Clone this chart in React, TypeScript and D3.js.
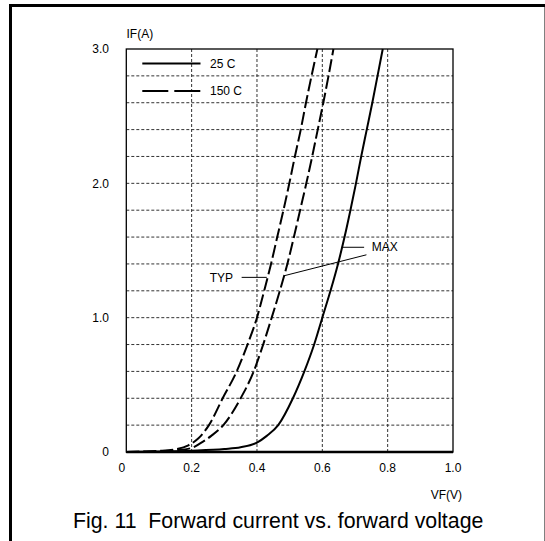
import React from "react";
import * as d3 from "d3";

// ---- data ----
const xTickValues = [0, 0.2, 0.4, 0.6, 0.8, 1.0];
const xTickLabels = ["0", "0.2", "0.4", "0.6", "0.8", "1.0"];
const yTickValues = [0, 1, 2, 3];
const yTickLabels = ["0", "1.0", "2.0", "3.0"];
const xGrid = [0.2, 0.4, 0.6, 0.8];
const yGrid = [0.2, 0.4, 0.6, 0.8, 1.0, 1.2, 1.4, 1.6, 1.8, 2.0, 2.2, 2.4, 2.6, 2.8];

// 150 C typical (left dashed)
const vf150Typ = [0, 0.05, 0.1, 0.15, 0.19, 0.22, 0.253, 0.295, 0.338, 0.371, 0.4, 0.422, 0.443, 0.462, 0.481, 0.499, 0.516, 0.534, 0.55, 0.567, 0.585];
const if150Typ = [0, 0.003, 0.008, 0.02, 0.05, 0.1, 0.2, 0.4, 0.6, 0.8, 1.0, 1.2, 1.4, 1.6, 1.8, 2.0, 2.2, 2.4, 2.6, 2.8, 3.0];
// 150 C max (right dashed)
const vf150Max = [0, 0.05, 0.1, 0.15, 0.2, 0.226, 0.26, 0.297, 0.35, 0.39, 0.419, 0.445, 0.47, 0.493, 0.513, 0.532, 0.551, 0.569, 0.586, 0.603, 0.619, 0.634];
const if150Max = [0, 0.002, 0.005, 0.012, 0.03, 0.064, 0.12, 0.2, 0.4, 0.6, 0.8, 1.0, 1.2, 1.4, 1.6, 1.8, 2.0, 2.2, 2.4, 2.6, 2.8, 3.0];
// 25 C max (solid)
const vf25Max = [0, 0.1, 0.2, 0.3, 0.35, 0.4, 0.43, 0.465, 0.51, 0.545, 0.575, 0.6, 0.625, 0.648, 0.668, 0.686, 0.703, 0.719, 0.736, 0.753, 0.769, 0.785];
const if25Max = [0, 0.004, 0.01, 0.022, 0.035, 0.07, 0.12, 0.2, 0.4, 0.6, 0.8, 1.0, 1.2, 1.4, 1.6, 1.8, 2.0, 2.2, 2.4, 2.6, 2.8, 3.0];

const legendLabels = ["25 C", "150 C"];
const caption = "Fig. 11  Forward current vs. forward voltage";

const FONT = "'Liberation Sans', Arial, Helvetica, sans-serif";

export default function App() {
  const x = d3.scaleLinear().domain([0, 1]).range([126.3, 453]);
  const y = d3.scaleLinear().domain([0, 3]).range([452, 49]);

  const line = d3
    .line<[number, number]>()
    .x((d) => x(d[0]))
    .y((d) => y(d[1]))
    .curve(d3.curveMonotoneX);

  const toPts = (v: number[], i: number[]) => v.map((vv, k) => [vv, i[k]] as [number, number]);

  const x0 = x(0), x1 = x(1), y0 = y(0), y1 = y(3);

  // annotation anchors (data units)
  const typY = 1.3;
  const maxY = 1.524;

  return (
    <svg
      width={545}
      height={541}
      style={{ position: "absolute", left: 0, top: 0, background: "#fff" }}
      fontFamily={FONT}
    >
      {/* outer frame */}
      <rect x={10.5} y={5.5} width={535.5} height={545} fill="none" stroke="#000" strokeWidth={3} />

      {/* grid */}
      {yGrid.map((g) => (
        <line key={"hy" + g} x1={x0} x2={x1} y1={y(g)} y2={y(g)} stroke="#333" strokeWidth={1} strokeDasharray="3,2" />
      ))}
      {xGrid.map((g) => (
        <line key={"vx" + g} x1={x(g)} x2={x(g)} y1={y1} y2={y0} stroke="#333" strokeWidth={1} strokeDasharray="3,2" />
      ))}

      {/* plot frame */}
      <rect x={x0} y={y1} width={x1 - x0} height={y0 - y1} fill="none" stroke="#000" strokeWidth={1.3} />
      <line x1={x0} x2={x1} y1={y0} y2={y0} stroke="#000" strokeWidth={2.5} />

      {/* curves */}
      <path d={line(toPts(vf150Typ, if150Typ)) || ""} fill="none" stroke="#000" strokeWidth={2} strokeDasharray="13,4" />
      <path d={line(toPts(vf150Max, if150Max)) || ""} fill="none" stroke="#000" strokeWidth={2} strokeDasharray="13,4" />
      <path d={line(toPts(vf25Max, if25Max)) || ""} fill="none" stroke="#000" strokeWidth={2} />

      {/* legend */}
      <line x1={142.3} x2={200.5} y1={63.5} y2={63.5} stroke="#000" strokeWidth={2} />
      <line x1={142.3} x2={200.5} y1={91} y2={91} stroke="#000" strokeWidth={2} strokeDasharray="26,6" />
      <text x={210} y={63.5} dy="0.35em" fontSize={12}>{legendLabels[0]}</text>
      <text x={210} y={91} dy="0.35em" fontSize={12}>{legendLabels[1]}</text>

      {/* annotations */}
      <text x={x(0.327)} y={y(typY)} dy="0.35em" fontSize={12} textAnchor="end">TYP</text>
      <line x1={x(0.353)} x2={x(0.43)} y1={y(typY)} y2={y(typY)} stroke="#000" strokeWidth={1} />
      <text x={x(0.751)} y={y(maxY)} dy="0.35em" fontSize={12}>MAX</text>
      <line x1={x(0.659)} x2={x(0.728)} y1={y(maxY)} y2={y(maxY)} stroke="#000" strokeWidth={1} />
      <line x1={x(0.735)} x2={x(0.483)} y1={y(1.468)} y2={y(1.312)} stroke="#000" strokeWidth={1} />

      {/* axis labels */}
      {xTickValues.map((v, k) => (
        <text key={"xt" + v} x={x(v) + (k === 0 ? -4.5 : 0)} y={472} fontSize={12} textAnchor="middle">
          {xTickLabels[k]}
        </text>
      ))}
      {yTickValues.map((v, k) => (
        <text key={"yt" + v} x={109} y={y(v)} dy="0.35em" fontSize={12} textAnchor="end">
          {yTickLabels[k]}
        </text>
      ))}
      <text x={126.5} y={33.5} dy="0.35em" fontSize={12}>IF(A)</text>
      <text x={462} y={495} dy="0.35em" fontSize={12} textAnchor="end">VF(V)</text>

      <text x={73} y={528} fontSize={21.3} style={{ whiteSpace: "pre" }}>{caption}</text>
    </svg>
  );
}
